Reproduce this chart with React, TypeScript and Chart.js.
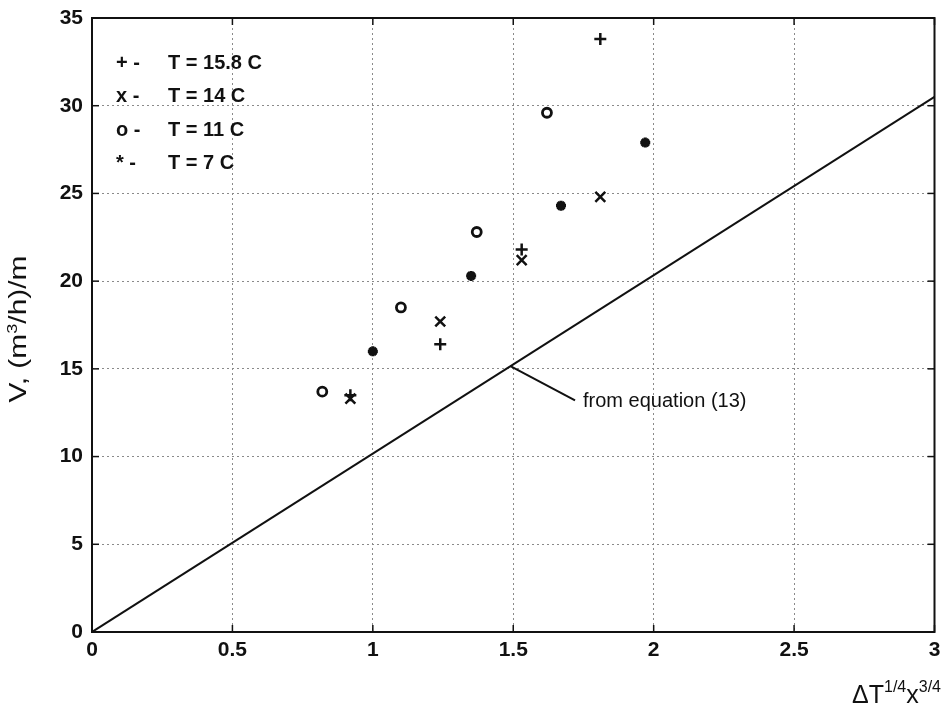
import React, { useEffect, useRef } from "react";
import { Chart, registerables } from "chart.js";
Chart.register(...registerables);

// ---- data ----
const xTickValues = [0, 0.5, 1, 1.5, 2, 2.5, 3];
const yTickValues = [0, 5, 10, 15, 20, 25, 30, 35];

const t158X = [0.92, 1.24, 1.53, 1.81];
const t158Y = [13.5, 16.4, 21.8, 33.8];
const t14X = [0.92, 1.24, 1.53, 1.81];
const t14Y = [13.3, 17.7, 21.2, 24.8];
const t11X = [0.82, 1.1, 1.37, 1.62];
const t11Y = [13.7, 18.5, 22.8, 29.6];
const t7X = [1.0, 1.35, 1.67, 1.97];
const t7Y = [16.0, 20.3, 24.3, 27.9];

const eqX = [0, 3];
const eqY = [0, 30.5];
const calloutX = [1.49, 1.72];
const calloutY = [15.15, 13.2];
const calloutText = "from equation (13)";

const legendSymbols = ["+ -", "x -", "o -", "* -"];
const legendLabels = ["T = 15.8 C", "T = 14 C", "T = 11 C", "T = 7 C"];

const pts = (xs: number[], ys: number[]) => xs.map((x, i) => ({ x, y: ys[i] }));

const FONT = '"Liberation Sans", Arial, Helvetica, sans-serif';
const INK = "#111";

const decor = {
  id: "decor",
  afterDraw(chart: any) {
    const { ctx, chartArea: a, scales } = chart;
    const x = scales.x;
    const y = scales.y;
    ctx.save();
    // frame
    ctx.strokeStyle = INK;
    ctx.lineWidth = 2;
    ctx.strokeRect(a.left, a.top, a.right - a.left, a.bottom - a.top);
    // inward ticks
    ctx.lineWidth = 1.5;
    const seg = (x1: number, y1: number, x2: number, y2: number) => {
      ctx.beginPath();
      ctx.moveTo(x1, y1);
      ctx.lineTo(x2, y2);
      ctx.stroke();
    };
    xTickValues.forEach((v) => {
      const px = x.getPixelForValue(v);
      seg(px, a.top, px, a.top + 7);
      seg(px, a.bottom, px, a.bottom - 7);
    });
    yTickValues.forEach((v) => {
      const py = y.getPixelForValue(v);
      seg(a.left, py, a.left + 7, py);
      seg(a.right, py, a.right - 7, py);
    });

    // legend
    ctx.fillStyle = INK;
    ctx.textBaseline = "middle";
    ctx.textAlign = "left";
    ctx.font = `bold 20px ${FONT}`;
    legendLabels.forEach((lab, i) => {
      const ty = a.top + 45 + i * 33.5;
      ctx.fillText(legendSymbols[i], a.left + 24, ty);
      ctx.fillText(lab, a.left + 76, ty);
    });

    // callout text
    ctx.font = `20px ${FONT}`;
    ctx.fillText(
      calloutText,
      x.getPixelForValue(calloutX[1]) + 8,
      y.getPixelForValue(calloutY[1]) + 1
    );

    // y title with superscript (stretched along its baseline)
    const yc = (a.top + a.bottom) / 2 + 4;
    ctx.save();
    ctx.translate(26, yc);
    ctx.rotate(-Math.PI / 2);
    ctx.scale(1.3, 1);
    const parts: [string, boolean][] = [["V, (m", false], ["3", true], ["/h)/m", false]];
    const mainF = `23px ${FONT}`;
    const supF = `14px ${FONT}`;
    let total = 0;
    parts.forEach(([t, s]) => {
      ctx.font = s ? supF : mainF;
      total += ctx.measureText(t).width;
    });
    let cx = -total / 2;
    ctx.textBaseline = "alphabetic";
    parts.forEach(([t, s]) => {
      ctx.font = s ? supF : mainF;
      ctx.fillText(t, cx, s ? -9 : 0);
      cx += ctx.measureText(t).width;
    });
    ctx.restore();

    // x title with superscripts, right aligned
    const xparts: [string, boolean][] = [["ΔT", false], ["1/4", true], ["x", false], ["3/4", true]];
    const xMain = `25px ${FONT}`;
    const xSup = `16px ${FONT}`;
    let xw = 0;
    xparts.forEach(([t, s]) => {
      ctx.font = s ? xSup : xMain;
      xw += ctx.measureText(t).width;
    });
    let sx = 941 - xw;
    const base = 703;
    ctx.textBaseline = "alphabetic";
    xparts.forEach(([t, s]) => {
      ctx.font = s ? xSup : xMain;
      ctx.fillText(t, sx, s ? base - 11 : base);
      sx += ctx.measureText(t).width;
    });
    ctx.restore();
  },
};

export default function App() {
  const ref = useRef<HTMLCanvasElement | null>(null);
  useEffect(() => {
    document.body.style.margin = "0";
    const canvas = ref.current;
    if (!canvas) return;
    const scatterBase = {
      type: "scatter" as const,
      borderColor: INK,
      backgroundColor: "rgba(0,0,0,0)",
      showLine: false,
    };
    const tickFont = { family: FONT, size: 21, weight: "bold" };
    const chart = new Chart(canvas, {
      type: "scatter",
      data: {
        datasets: [
          {
            ...scatterBase,
            label: legendLabels[0],
            data: pts(t158X, t158Y),
            pointStyle: "cross",
            pointRadius: 6,
            borderWidth: 2.5,
          },
          {
            ...scatterBase,
            label: legendLabels[1],
            data: pts(t14X, t14Y),
            pointStyle: "crossRot",
            pointRadius: 7,
            borderWidth: 2.5,
          },
          {
            ...scatterBase,
            label: legendLabels[2],
            data: pts(t11X, t11Y),
            pointStyle: "circle",
            pointRadius: 4.5,
            borderWidth: 2.8,
          },
          {
            ...scatterBase,
            label: legendLabels[3],
            data: pts(t7X, t7Y),
            pointStyle: "star",
            pointRadius: 5,
            borderWidth: 3.2,
          },
          {
            type: "line" as const,
            label: "equation",
            data: pts(eqX, eqY),
            borderColor: INK,
            borderWidth: 2,
            pointRadius: 0,
            fill: false,
          },
          {
            type: "line" as const,
            label: "callout",
            data: pts(calloutX, calloutY),
            borderColor: INK,
            borderWidth: 2,
            pointRadius: 0,
            fill: false,
          },
        ] as any,
      },
      options: {
        animation: false,
        responsive: false,
        layout: { padding: { left: 0, top: 18, right: 7, bottom: 0 } },
        plugins: { legend: { display: false }, tooltip: { enabled: false } },
        scales: {
          x: {
            type: "linear",
            min: 0,
            max: 3,
            afterBuildTicks: (s: any) => {
              s.ticks = xTickValues.map((v) => ({ value: v }));
            },
            afterFit: (s: any) => {
              s.height = 78;
              s.paddingLeft = 0;
              s.paddingRight = 0;
            },
            ticks: {
              color: INK,
              font: tickFont,
              padding: 6,
              maxRotation: 0,
              callback: (v: any) => String(v),
            },
            grid: { color: "#8a8a8a", lineWidth: 1, drawTicks: false },
            border: { display: false, dash: [2, 3] },
          },
          y: {
            type: "linear",
            min: 0,
            max: 35,
            afterBuildTicks: (s: any) => {
              s.ticks = yTickValues.map((v) => ({ value: v }));
            },
            afterFit: (s: any) => {
              s.width = 92;
              s.paddingTop = 0;
              s.paddingBottom = 0;
            },
            ticks: {
              color: INK,
              font: tickFont,
              padding: 9,
              callback: (v: any) => String(v),
            },
            grid: { color: "#8a8a8a", lineWidth: 1, drawTicks: false },
            border: { display: false, dash: [2, 3] },
          },
        },
      } as any,
      plugins: [decor],
    });
    return () => chart.destroy();
  }, []);
  return (
    <div style={{ position: "absolute", left: 0, top: 0, width: 944, height: 710, background: "#fff" }}>
      <canvas ref={ref} width={944} height={710} style={{ width: 944, height: 710, display: "block" }} />
    </div>
  );
}
